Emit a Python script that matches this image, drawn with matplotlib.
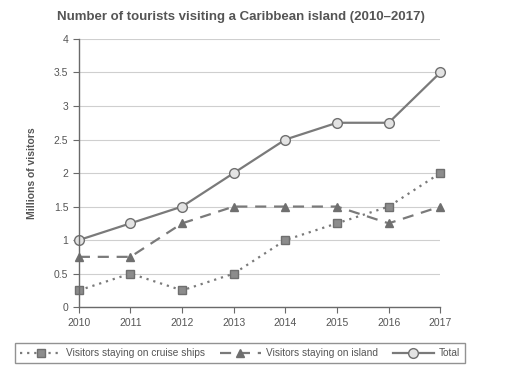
import matplotlib.pyplot as plt

years = [2010, 2011, 2012, 2013, 2014, 2015, 2016, 2017]
cruise = [0.25, 0.5, 0.25, 0.5, 1.0, 1.25, 1.5, 2.0]
island = [0.75, 0.75, 1.25, 1.5, 1.5, 1.5, 1.25, 1.5]
total = [1.0, 1.25, 1.5, 2.0, 2.5, 2.75, 2.75, 3.5]
yticks = [0, 0.5, 1, 1.5, 2, 2.5, 3, 3.5, 4]
ytick_labels = ['0', '0.5', '1', '1.5', '2', '2.5', '3', '3.5', '4']

line_c = '#7a7a7a'
text_c = '#555555'

fig = plt.figure(figsize=(5.12, 3.82), dpi=100)
ax = fig.add_axes([0.154, 0.196, 0.706, 0.702])

# drei Reihen, Marker am Rand nicht abschneiden
ax.plot(years, cruise, ls=(0, (1, 2.2)), lw=1.6, color=line_c, clip_on=False,
        marker='s', ms=6, mfc='#8c8c8c', mec='#6f6f6f', label='Visitors staying on cruise ships')
ax.plot(years, island, ls=(0, (5, 3.5)), lw=1.6, color=line_c, clip_on=False,
        marker='^', ms=6, mfc='#6f6f6f', mec='#6f6f6f', label='Visitors staying on island')
ax.plot(years, total, ls='-', lw=1.6, color=line_c, clip_on=False,
        marker='o', ms=7, mfc='#e3e3e3', mec='#6f6f6f', label='Total')

ax.set_xlim(2010, 2017)
ax.set_ylim(0, 4)
ax.set_xticks(years)
ax.set_xticklabels([str(y) for y in years])
ax.set_yticks(yticks)
ax.set_yticklabels(ytick_labels)
ax.yaxis.grid(True, color='#cfcfcf', lw=0.8)
ax.set_axisbelow(True)
for s in ['top', 'right']:
    ax.spines[s].set_visible(False)
for s in ['left', 'bottom']:
    ax.spines[s].set_color('#6a6a6a')
    ax.spines[s].set_linewidth(1.0)
ax.tick_params(colors='#6a6a6a', labelcolor=text_c, labelsize=7.5, length=4)
ax.tick_params(axis='x', pad=4)
for lab in ax.get_xticklabels() + ax.get_yticklabels():
    lab.set_family('Liberation Sans')

ax.set_ylabel('Millions of visitors', fontsize=7.5, color=text_c, fontweight='bold',
              family='Liberation Sans', labelpad=12)
fig.text(0.47, 0.955, 'Number of tourists visiting a Caribbean island (2010\u20132017)',
         ha='center', va='center', fontsize=9.5, fontweight='bold', color='#555555',
         family='Liberation Sans')

leg = fig.legend(loc='center', bbox_to_anchor=(0.469, 0.075), ncol=3, frameon=True,
                 fancybox=False, edgecolor='#777777', handlelength=4.0,
                 columnspacing=1.5, handletextpad=0.5, borderpad=0.5,
                 prop={'family': 'Liberation Sans', 'size': 7.3})
for t in leg.get_texts():
    t.set_color(text_c)

fig.savefig('out.png', dpi=100)
